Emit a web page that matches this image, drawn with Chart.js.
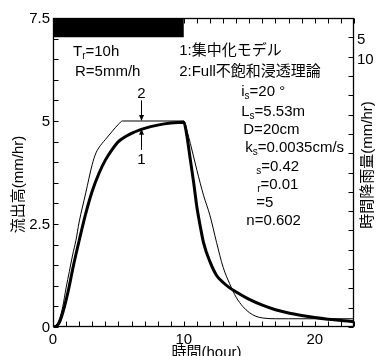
<!DOCTYPE html>
<html><head><meta charset="utf-8">
<script src="https://cdn.jsdelivr.net/npm/chart.js@4"></script>
<style>html,body{margin:0;padding:0;background:#fff}canvas{display:block}</style>
</head><body>
<canvas id="c" width="376" height="356"></canvas>
<script>
// ---- data ----
// series 1: 集中化モデル (thick)
const hours1 = [0,0.25,0.5,0.75,1,1.25,1.5,2,2.5,3,3.5,4,4.5,5,6,7,8,9,10,10.2,10.5,10.75,11,11.25,11.5,12,12.5,13,13.5,14,15,16,17,18,19,20,21,22,23];
const flow1  = [0,0.02,0.12,0.35,0.65,1.0,1.4,2.1,2.75,3.3,3.72,4.05,4.3,4.5,4.7,4.82,4.9,4.95,4.97,4.7,4.05,3.5,2.9,2.45,2.05,1.58,1.25,1.08,0.95,0.85,0.67,0.53,0.42,0.34,0.28,0.23,0.19,0.16,0.13];
// series 2: Full不飽和浸透理論 (thin)
const hours2 = [0,0.25,0.5,0.75,1,1.25,1.5,1.75,2,2.5,3,3.25,3.5,4,4.5,5,5.3,10,10.25,10.5,11,11.5,12,12.5,13,13.5,14,14.5,15,15.5,16,17,18,20,23];
const flow2  = [0,0.05,0.2,0.5,0.95,1.35,1.75,2.1,2.55,3.25,3.95,4.2,4.35,4.55,4.74,4.92,5.0,5.0,4.75,4.45,3.8,3.2,2.7,2.05,1.45,1.05,0.72,0.5,0.35,0.26,0.22,0.2,0.2,0.2,0.2];
// rainfall (hyetograph)
const rainHours = [0, 10];
const rainRate  = [5, 5];
// tick labels
const xTickLabels = [0, 10, 20];
const yTickLabels = [0, 2.5, 5, 7.5];
const rainTickLabels = [5, 10];

const FONT = '"Liberation Sans", Arial, "Noto Sans CJK JP", sans-serif';

// annotations anchored in data coordinates (hours, flow)
const notes = [
  {x:1.53, y:6.67, seg:[['T'],['r',1],['=10h']]},
  {x:1.68, y:6.19, seg:[['R=5mm/h']]},
  {x:9.64, y:6.70, seg:[['1:集中化モデル']]},
  {x:9.64, y:6.19, seg:[['2:Full不飽和浸透理論']]},
  {x:14.38, y:5.70, seg:[['i'],['s',1],['=20 °']]},
  {x:14.38, y:5.22, seg:[['L'],['s',1],['=5.53m']]},
  {x:14.54, y:4.78, seg:[['D=20cm']]},
  {x:14.69, y:4.34, seg:[['k'],['s',1],['=0.0035cm/s']]},
  {x:15.53, y:3.88, seg:[['s',1],['=0.42']]},
  {x:15.60, y:3.45, seg:[['r',1],['=0.01']]},
  {x:15.53, y:3.01, seg:[['=5']]},
  {x:14.77, y:2.57, seg:[['n=0.602']]}
];
const arrows = [
  {label:'2', x:6.7, labelY:5.66, from:5.5, to:5.0},
  {label:'1', x:6.7, labelY:4.06, from:4.3, to:4.81}
];

function near(list, v){ return list.some(a => Math.abs(a - v) < 1e-6); }

const framePlugin = {
  id: 'frame',
  afterDraw(chart) {
    const ctx = chart.ctx, ca = chart.chartArea;
    const xs = chart.scales.x, ys = chart.scales.y, rs = chart.scales.y2;
    ctx.save();
    ctx.strokeStyle = '#000';
    ctx.lineWidth = 1;
    const L = Math.round(ca.left)+0.5, R = Math.round(ca.right)-0.5, T = Math.round(ca.top)+0.5, B = Math.round(ca.bottom)-0.5;
    const tl = 5;
    ctx.beginPath();
    xs.ticks.forEach(t => {
      const p = Math.round(xs.getPixelForValue(t.value)) + 0.5;
      ctx.moveTo(p, B); ctx.lineTo(p, B - tl);
      ctx.moveTo(p, T); ctx.lineTo(p, T + tl);
    });
    ys.ticks.forEach(t => {
      const p = Math.round(ys.getPixelForValue(t.value)) + 0.5;
      ctx.moveTo(L, p); ctx.lineTo(L + tl, p);
    });
    rs.ticks.forEach(t => {
      const p = Math.round(rs.getPixelForValue(t.value)) + 0.5;
      ctx.moveTo(R, p); ctx.lineTo(R - tl, p);
    });
    ctx.stroke();
    ctx.lineWidth = 1.3;
    ctx.strokeRect(L, T, R - L, B - T);

    // annotations
    ctx.fillStyle = '#000';
    ctx.textBaseline = 'middle';
    ctx.textAlign = 'left';
    notes.forEach(n => {
      let px = xs.getPixelForValue(n.x);
      const py = ys.getPixelForValue(n.y);
      n.seg.forEach(([txt, sub]) => {
        ctx.font = (sub ? '10px ' : '15px ') + FONT;
        ctx.fillText(txt, px, sub ? py + 4 : py);
        px += ctx.measureText(txt).width;
      });
    });
    // arrows
    ctx.font = '15px ' + FONT;
    ctx.textAlign = 'center';
    ctx.lineWidth = 1;
    arrows.forEach(a => {
      const px = Math.round(xs.getPixelForValue(a.x)) + 0.5;
      const y0 = ys.getPixelForValue(a.from), y1 = ys.getPixelForValue(a.to);
      const dir = y1 > y0 ? 1 : -1;
      ctx.fillText(a.label, px, ys.getPixelForValue(a.labelY));
      ctx.beginPath(); ctx.moveTo(px, y0); ctx.lineTo(px, y1 - dir*5); ctx.stroke();
      ctx.beginPath(); ctx.moveTo(px, y1); ctx.lineTo(px - 2.5, y1 - dir*6); ctx.lineTo(px + 2.5, y1 - dir*6); ctx.closePath(); ctx.fill();
    });
    // axis titles
    ctx.font = '15px ' + FONT;
    ctx.textAlign = 'center';
    ctx.fillText('時間(hour)', (ca.left + ca.right)/2 + 3, 353);
    ctx.save();
    ctx.translate(19, (ca.top + ca.bottom)/2 + 12);
    ctx.rotate(-Math.PI/2);
    ctx.fillText('流出高(mm/hr)', 0, 0);
    ctx.restore();
    ctx.save();
    ctx.translate(368, 165);
    ctx.rotate(-Math.PI/2);
    ctx.fillText('時間降雨量(mm/hr)', 0, 0);
    ctx.restore();
    ctx.restore();
  }
};

const toPts = (xs, ys) => xs.map((x, i) => ({x, y: ys[i]}));

new Chart(document.getElementById('c'), {
  type: 'line',
  data: {
    datasets: [
      {label:'rain', data: toPts(rainHours, rainRate), yAxisID:'y2', fill:'origin', backgroundColor:'#000', borderColor:'#000', borderWidth:0, pointRadius:0, tension:0},
      {label:'1:集中化モデル', data: toPts(hours1, flow1), yAxisID:'y', borderColor:'#000', borderWidth:3, pointRadius:0, fill:false, cubicInterpolationMode:'monotone'},
      {label:'2:Full不飽和浸透理論', data: toPts(hours2, flow2), yAxisID:'y', borderColor:'#000', borderWidth:1, pointRadius:0, fill:false, cubicInterpolationMode:'monotone'}
    ]
  },
  options: {
    responsive:false, animation:false, devicePixelRatio:1,
    layout:{padding:{top:18, left:0, right:0, bottom:0}},
    plugins:{legend:{display:false}, tooltip:{enabled:false}},
    scales:{
      x:{type:'linear', position:'bottom', min:0, max:23,
         grid:{display:false, drawTicks:false}, border:{display:false},
         ticks:{stepSize:1, autoSkip:false, maxRotation:0, padding:4, color:'#000', font:{size:15, family:FONT},
                callback:v => near(xTickLabels, v) ? String(v) : ''},
         afterFit:s => { s.height = 29; }},
      y:{type:'linear', position:'left', min:0, max:7.5,
         grid:{display:false, drawTicks:false}, border:{display:false},
         ticks:{stepSize:0.5, autoSkip:false, padding:3, labelOffset:1, color:'#000', font:{size:15, family:FONT},
                callback:v => near(yTickLabels, v) ? String(v) : ''},
         afterFit:s => { s.width = 53; }},
      y2:{type:'linear', position:'right', min:0, max:80, reverse:true,
         grid:{display:false, drawTicks:false}, border:{display:false},
         ticks:{stepSize:5, autoSkip:false, padding:3, labelOffset:3, color:'#000', font:{size:15, family:FONT},
                callback:v => near(rainTickLabels, v) ? String(v) : ''},
         afterFit:s => { s.width = 22; }}
    }
  },
  plugins:[framePlugin]
});
</script>
</body></html>
